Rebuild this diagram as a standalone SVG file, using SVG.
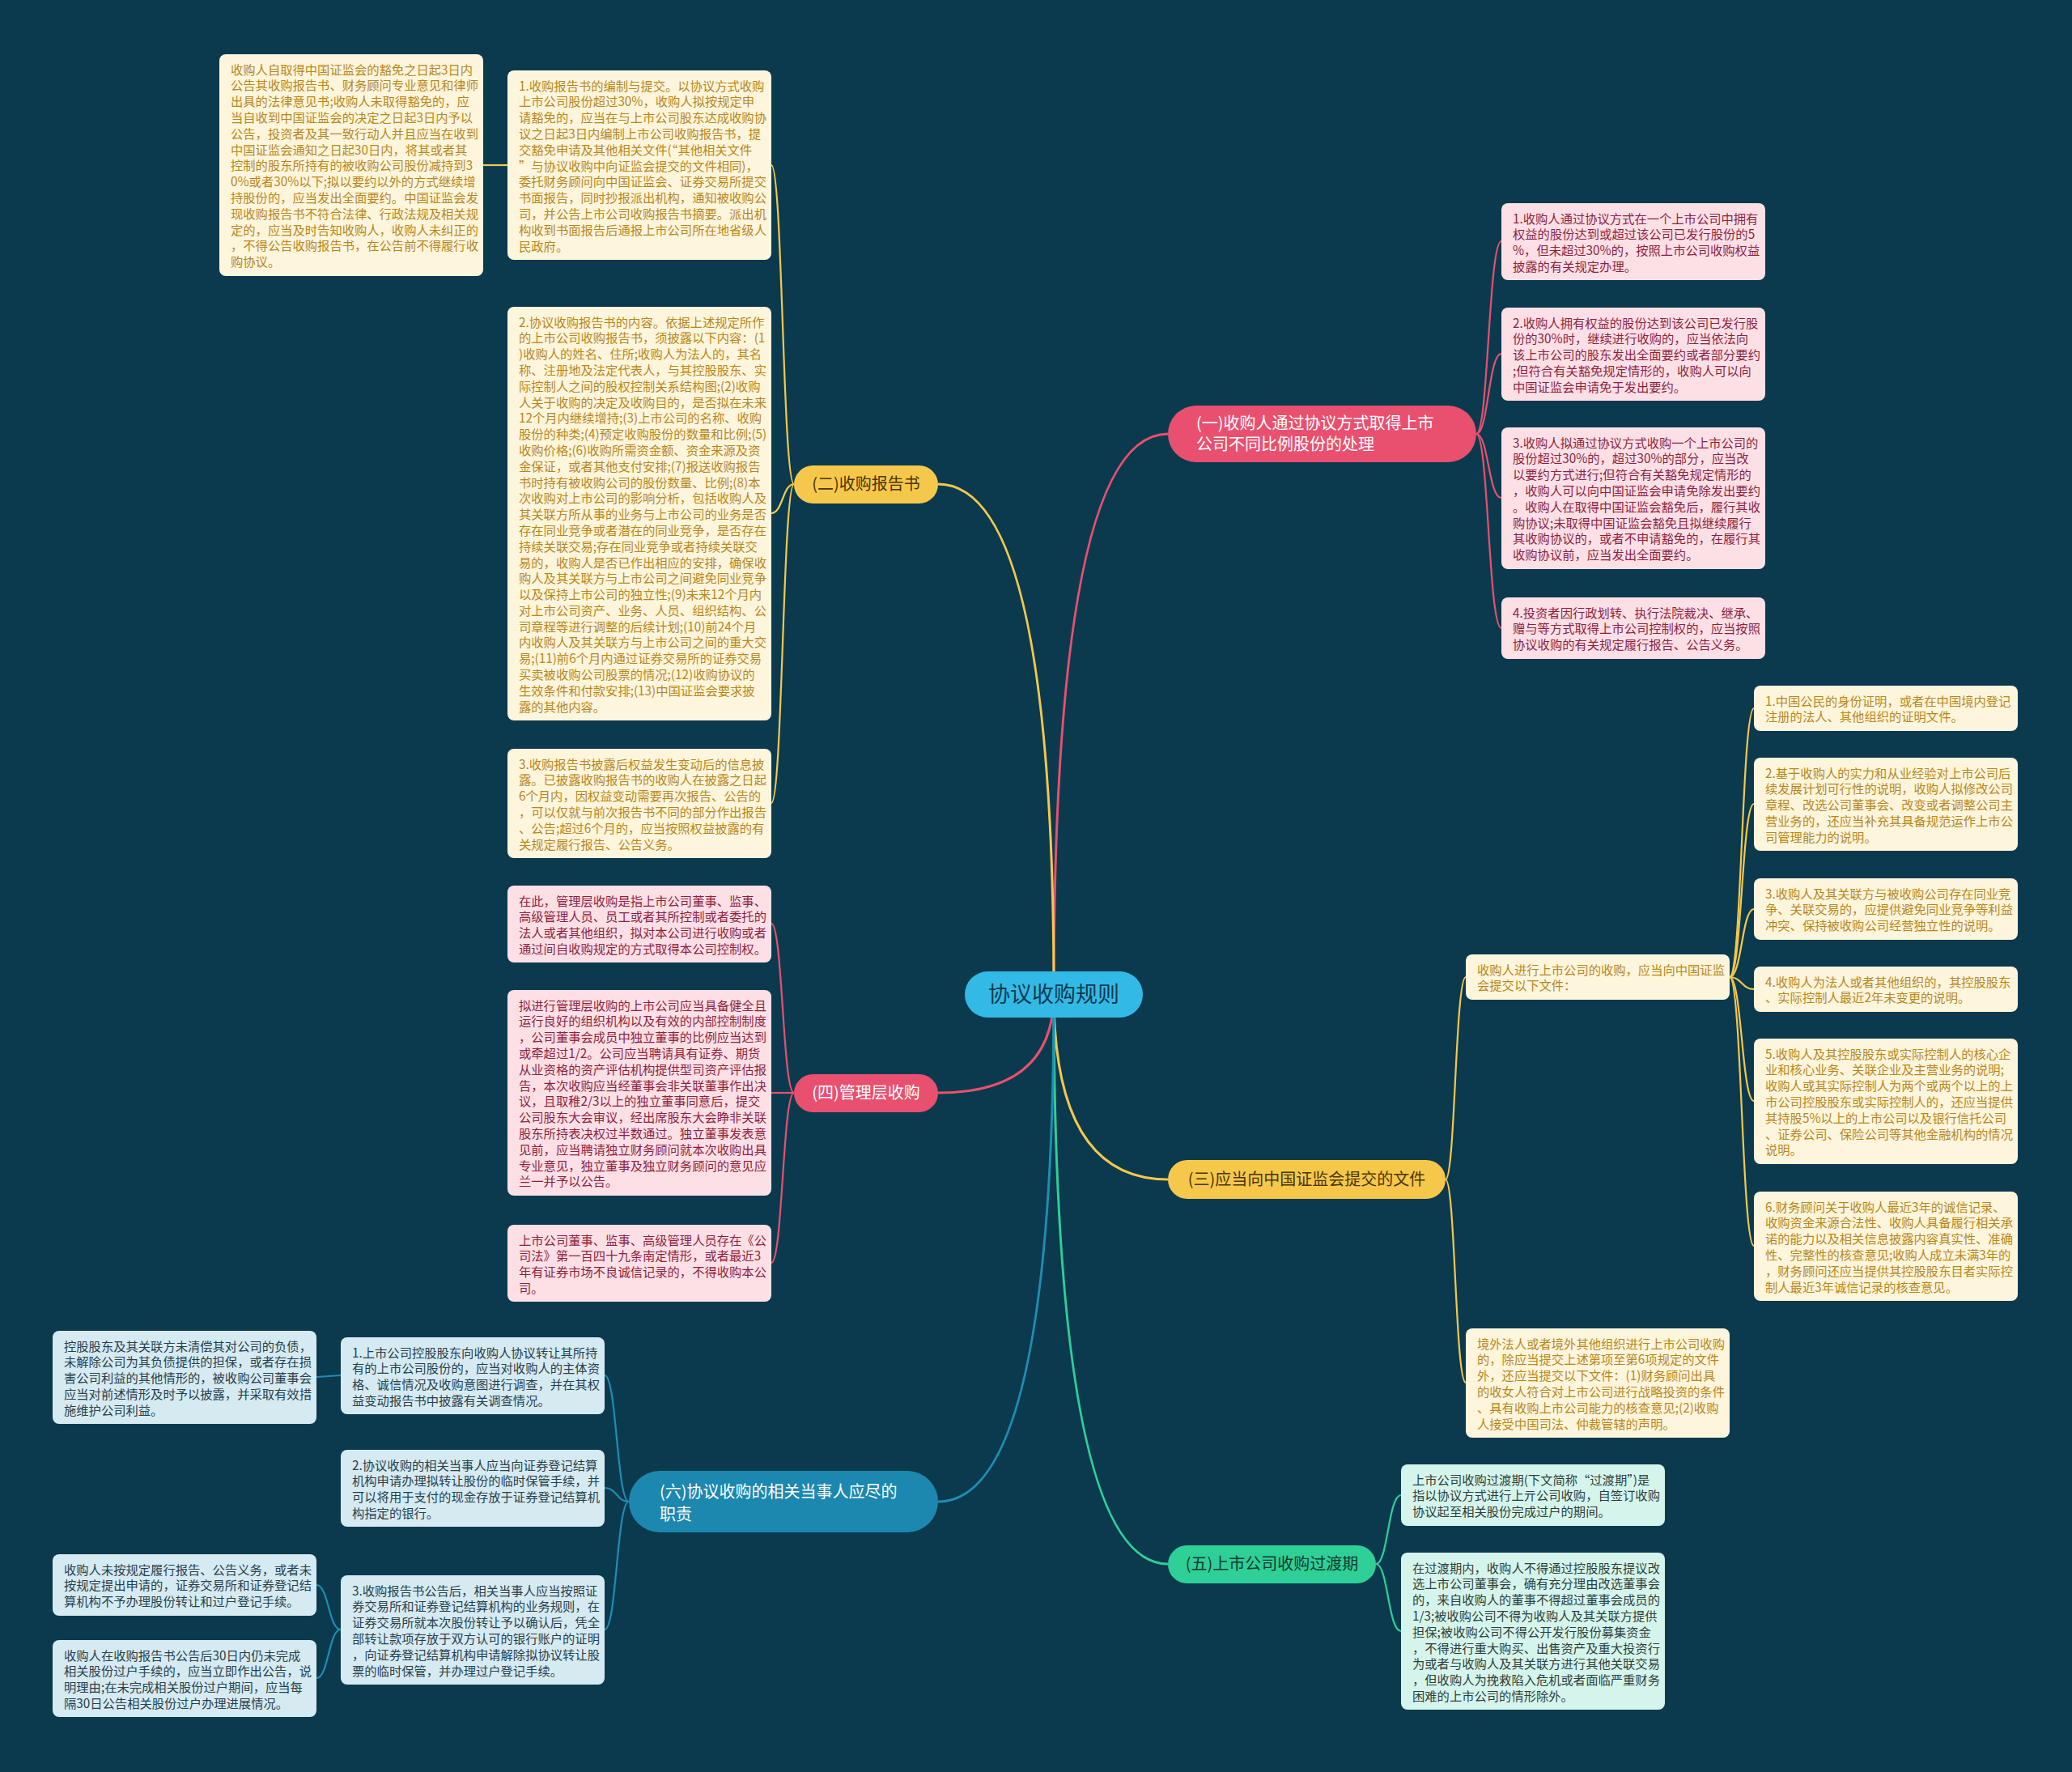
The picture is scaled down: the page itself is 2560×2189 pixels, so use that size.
<svg xmlns="http://www.w3.org/2000/svg" width="2560" height="2189" viewBox="0 0 2560 2189">
<style>
text{font-family:"Noto Sans CJK SC","Noto Sans",sans-serif}
.lt{font-size:15.3px}
.ly rect{fill:#fdf5dc}.ly text{fill:#b8871b}
.lp rect{fill:#fde0e6}.lp text{fill:#8e1f3f}
.lg rect{fill:#d5f5ec}.lg text{fill:#2d3e3a}
.lb rect{fill:#d6eaf2}.lb text{fill:#24404d}
.bt{font-size:20px}
.cy{stroke:#f5c84c}.cp{stroke:#e9506f}.cg{stroke:#2fcf98}.cb{stroke:#1f8db5}
#connectors path{fill:none}
.main{stroke-width:3}
.sub{stroke-width:2.2}
</style>
<rect width="2560" height="2189" fill="#0b3a4e"/>
<g id="connectors">
<path class="main cp" d="M1302 1228 Q1302 536 1443 536"/>
<path class="main cy" d="M1302 1228 Q1302 598 1159 598"/>
<path class="main cp" d="M1302 1228 Q1302 1350 1159 1350"/>
<path class="main cy" d="M1302 1228 Q1302 1457 1443 1457"/>
<path class="main cg" d="M1302 1228 Q1302 1932 1443 1932"/>
<path class="main cb" d="M1302 1228 Q1302 1855 1159 1855"/>
<path class="sub cy" d="M981 598 C967 598 967 204 953 204"/>
<path class="sub cy" d="M981 598 C967 598 967 634 953 634"/>
<path class="sub cy" d="M981 598 C967 598 967 992 953 992"/>
<path class="sub cy" d="M627 204 L597 204"/>
<path class="sub cp" d="M981 1350 C967 1350 967 1141 953 1141"/>
<path class="sub cp" d="M981 1350 C967 1350 967 1350 953 1350"/>
<path class="sub cp" d="M981 1350 C967 1350 967 1560 953 1560"/>
<path class="sub cp" d="M1824 536 C1839 536 1839 298 1855 298"/>
<path class="sub cp" d="M1824 536 C1839 536 1839 437 1855 437"/>
<path class="sub cp" d="M1824 536 C1839 536 1839 615 1855 615"/>
<path class="sub cp" d="M1824 536 C1839 536 1839 776 1855 776"/>
<path class="sub cy" d="M1786 1457 C1798 1457 1798 1207 1811 1207"/>
<path class="sub cy" d="M1786 1457 C1798 1457 1798 1708 1811 1708"/>
<path class="sub cy" d="M2137 1207 C2152 1207 2152 875 2167 875"/>
<path class="sub cy" d="M2137 1207 C2152 1207 2152 993 2167 993"/>
<path class="sub cy" d="M2137 1207 C2152 1207 2152 1123 2167 1123"/>
<path class="sub cy" d="M2137 1207 C2152 1207 2152 1222 2167 1222"/>
<path class="sub cy" d="M2137 1207 C2152 1207 2152 1360 2167 1360"/>
<path class="sub cy" d="M2137 1207 C2152 1207 2152 1539 2167 1539"/>
<path class="sub cg" d="M1700 1932 C1715 1932 1715 1847 1731 1847"/>
<path class="sub cg" d="M1700 1932 C1715 1932 1715 2015 1731 2015"/>
<path class="sub cb" d="M777 1855 C762 1855 762 1699 747 1699"/>
<path class="sub cb" d="M777 1855 C762 1855 762 1838 747 1838"/>
<path class="sub cb" d="M777 1855 C762 1855 762 2013 747 2013"/>
<path class="sub cb" d="M421 1699 L391 1701"/>
<path class="sub cb" d="M421 2013 C406 2013 406 1958 391 1958"/>
<path class="sub cb" d="M421 2013 C406 2013 406 2073 391 2073"/>
</g>

<g id="center">
<rect x="1192" y="1200" width="220" height="57" rx="28.5" fill="#33b9e6"/>
<text x="1302" y="1238" text-anchor="middle" font-size="27" fill="#0b3a4e">协议收购规则</text>
</g>

<g id="n1">
<rect x="1443" y="501" width="381" height="70" rx="35" fill="#e9506f"/>
<text class="bt" fill="#ffffff"><tspan x="1478" y="530">(一)收购人通过协议方式取得上市</tspan><tspan x="1478" y="556">公司不同比例股份的处理</tspan></text>
</g>
<g id="n2">
<rect x="981" y="575" width="178" height="47" rx="23.5" fill="#f5c84c"/>
<text class="bt" x="1070" y="605" text-anchor="middle" fill="#4a3500">(二)收购报告书</text>
</g>
<g id="n3">
<rect x="1443" y="1433" width="343" height="48" rx="24" fill="#f5c84c"/>
<text class="bt" x="1614.5" y="1464" text-anchor="middle" fill="#4a3500">(三)应当向中国证监会提交的文件</text>
</g>
<g id="n4">
<rect x="981" y="1327" width="178" height="47" rx="23.5" fill="#e9506f"/>
<text class="bt" x="1070" y="1357" text-anchor="middle" fill="#ffffff">(四)管理层收购</text>
</g>
<g id="n5">
<rect x="1443" y="1909" width="257" height="47" rx="23.5" fill="#2fcf98"/>
<text class="bt" x="1571.5" y="1939" text-anchor="middle" fill="#0e3b2e">(五)上市公司收购过渡期</text>
</g>
<g id="n6">
<rect x="777" y="1817" width="382" height="76" rx="38" fill="#1c88b0"/>
<text class="bt" fill="#ffffff"><tspan x="815" y="1850">(六)协议收购的相关当事人应尽的</tspan><tspan x="815" y="1878">职责</tspan></text>
</g>

<g id="tl" class="ly">
<rect x="271" y="67" width="326" height="274" rx="8"/>
<text class="lt" x="285" y="91.5"><tspan x="285" dy="0">收购人自取得中国证监会的豁免之日起3日内</tspan><tspan x="285" dy="19.8">公告其收购报告书、财务顾问专业意见和律师</tspan><tspan x="285" dy="19.8">出具的法律意见书;收购人未取得豁免的，应</tspan><tspan x="285" dy="19.8">当自收到中国证监会的决定之日起3日内予以</tspan><tspan x="285" dy="19.8">公告，投资者及其一致行动人并且应当在收到</tspan><tspan x="285" dy="19.8">中国证监会通知之日起30日内，将其或者其</tspan><tspan x="285" dy="19.8">控制的股东所持有的被收购公司股份减持到3</tspan><tspan x="285" dy="19.8">0%或者30%以下;拟以要约以外的方式继续增</tspan><tspan x="285" dy="19.8">持股份的，应当发出全面要约。中国证监会发</tspan><tspan x="285" dy="19.8">现收购报告书不符合法律、行政法规及相关规</tspan><tspan x="285" dy="19.8">定的，应当及时告知收购人，收购人未纠正的</tspan><tspan x="285" dy="19.8">，不得公告收购报告书，在公告前不得履行收</tspan><tspan x="285" dy="19.8">购协议。</tspan></text>
</g>

<g id="b1" class="ly">
<rect x="627" y="87" width="326" height="234" rx="8"/>
<text class="lt" x="641" y="111.5"><tspan x="641" dy="0">1.收购报告书的编制与提交。以协议方式收购</tspan><tspan x="641" dy="19.8">上市公司股份超过30%，收购人拟按规定申</tspan><tspan x="641" dy="19.8">请豁免的，应当在与上市公司股东达成收购协</tspan><tspan x="641" dy="19.8">议之日起3日内编制上市公司收购报告书，提</tspan><tspan x="641" dy="19.8">交豁免申请及其他相关文件(“其他相关文件</tspan><tspan x="641" dy="19.8">”与协议收购中向证监会提交的文件相同)，</tspan><tspan x="641" dy="19.8">委托财务顾问向中国证监会、证券交易所提交</tspan><tspan x="641" dy="19.8">书面报告，同时抄报派出机构，通知被收购公</tspan><tspan x="641" dy="19.8">司，并公告上市公司收购报告书摘要。派出机</tspan><tspan x="641" dy="19.8">构收到书面报告后通报上市公司所在地省级人</tspan><tspan x="641" dy="19.8">民政府。</tspan></text>
</g>

<g id="b2" class="ly">
<rect x="627" y="379" width="326" height="511" rx="8"/>
<text class="lt" x="641" y="403.5"><tspan x="641" dy="0">2.协议收购报告书的内容。依据上述规定所作</tspan><tspan x="641" dy="19.8">的上市公司收购报告书，须披露以下内容：(1</tspan><tspan x="641" dy="19.8">)收购人的姓名、住所;收购人为法人的，其名</tspan><tspan x="641" dy="19.8">称、注册地及法定代表人，与其控股股东、实</tspan><tspan x="641" dy="19.8">际控制人之间的股权控制关系结构图;(2)收购</tspan><tspan x="641" dy="19.8">人关于收购的决定及收购目的，是否拟在未来</tspan><tspan x="641" dy="19.8">12个月内继续增持;(3)上市公司的名称、收购</tspan><tspan x="641" dy="19.8">股份的种类;(4)预定收购股份的数量和比例;(5)</tspan><tspan x="641" dy="19.8">收购价格;(6)收购所需资金额、资金来源及资</tspan><tspan x="641" dy="19.8">金保证，或者其他支付安排;(7)报送收购报告</tspan><tspan x="641" dy="19.8">书时持有被收购公司的股份数量、比例;(8)本</tspan><tspan x="641" dy="19.8">次收购对上市公司的影响分析，包括收购人及</tspan><tspan x="641" dy="19.8">其关联方所从事的业务与上市公司的业务是否</tspan><tspan x="641" dy="19.8">存在同业竞争或者潜在的同业竞争，是否存在</tspan><tspan x="641" dy="19.8">持续关联交易;存在同业竞争或者持续关联交</tspan><tspan x="641" dy="19.8">易的，收购人是否已作出相应的安排，确保收</tspan><tspan x="641" dy="19.8">购人及其关联方与上市公司之间避免同业竞争</tspan><tspan x="641" dy="19.8">以及保持上市公司的独立性;(9)未来12个月内</tspan><tspan x="641" dy="19.8">对上市公司资产、业务、人员、组织结构、公</tspan><tspan x="641" dy="19.8">司章程等进行调整的后续计划;(10)前24个月</tspan><tspan x="641" dy="19.8">内收购人及其关联方与上市公司之间的重大交</tspan><tspan x="641" dy="19.8">易;(11)前6个月内通过证券交易所的证券交易</tspan><tspan x="641" dy="19.8">买卖被收购公司股票的情况;(12)收购协议的</tspan><tspan x="641" dy="19.8">生效条件和付款安排;(13)中国证监会要求披</tspan><tspan x="641" dy="19.8">露的其他内容。</tspan></text>
</g>

<g id="b3" class="ly">
<rect x="627" y="925" width="326" height="135" rx="8"/>
<text class="lt" x="641" y="949.5"><tspan x="641" dy="0">3.收购报告书披露后权益发生变动后的信息披</tspan><tspan x="641" dy="19.8">露。已披露收购报告书的收购人在披露之日起</tspan><tspan x="641" dy="19.8">6个月内，因权益变动需要再次报告、公告的</tspan><tspan x="641" dy="19.8">，可以仅就与前次报告书不同的部分作出报告</tspan><tspan x="641" dy="19.8">、公告;超过6个月的，应当按照权益披露的有</tspan><tspan x="641" dy="19.8">关规定履行报告、公告义务。</tspan></text>
</g>

<g id="m1" class="lp">
<rect x="627" y="1094" width="326" height="95" rx="8"/>
<text class="lt" x="641" y="1118.5"><tspan x="641" dy="0">在此，管理层收购是指上市公司董事、监事、</tspan><tspan x="641" dy="19.8">高级管理人员、员工或者其所控制或者委托的</tspan><tspan x="641" dy="19.8">法人或者其他组织，拟对本公司进行收购或者</tspan><tspan x="641" dy="19.8">通过间自收购规定的方式取得本公司控制权。</tspan></text>
</g>

<g id="m2" class="lp">
<rect x="627" y="1223" width="326" height="254" rx="8"/>
<text class="lt" x="641" y="1247.5"><tspan x="641" dy="0">拟进行管理层收购的上市公司应当具备健全且</tspan><tspan x="641" dy="19.8">运行良好的组织机构以及有效的内部控制制度</tspan><tspan x="641" dy="19.8">，公司董事会成员中独立董事的比例应当达到</tspan><tspan x="641" dy="19.8">或牵超过1/2。公司应当聘请具有证券、期货</tspan><tspan x="641" dy="19.8">从业资格的资产评估机构提供型司资产评估报</tspan><tspan x="641" dy="19.8">告，本次收购应当经董事会非关联董事作出决</tspan><tspan x="641" dy="19.8">议，且取稚2/3以上的独立董事同意后，提交</tspan><tspan x="641" dy="19.8">公司股东大会审议，经出席股东大会睁非关联</tspan><tspan x="641" dy="19.8">股东所持表决权过半数通过。独立董事发表意</tspan><tspan x="641" dy="19.8">见前，应当聘请独立财务顾问就本次收购出具</tspan><tspan x="641" dy="19.8">专业意见，独立董事及独立财务顾问的意见应</tspan><tspan x="641" dy="19.8">兰一并予以公告。</tspan></text>
</g>

<g id="m3" class="lp">
<rect x="627" y="1513" width="326" height="95" rx="8"/>
<text class="lt" x="641" y="1537.5"><tspan x="641" dy="0">上市公司董事、监事、高级管理人员存在《公</tspan><tspan x="641" dy="19.8">司法》第一百四十九条南定情形，或者最近3</tspan><tspan x="641" dy="19.8">年有证券市场不良诚信记录的，不得收购本公</tspan><tspan x="641" dy="19.8">司。</tspan></text>
</g>

<g id="r1" class="lp">
<rect x="1855" y="251" width="326" height="95" rx="8"/>
<text class="lt" x="1869" y="275.5"><tspan x="1869" dy="0">1.收购人通过协议方式在一个上市公司中拥有</tspan><tspan x="1869" dy="19.8">权益的股份达到或超过该公司已发行股份的5</tspan><tspan x="1869" dy="19.8">%，但未超过30%的，按照上市公司收购权益</tspan><tspan x="1869" dy="19.8">披露的有关规定办理。</tspan></text>
</g>

<g id="r2" class="lp">
<rect x="1855" y="380" width="326" height="115" rx="8"/>
<text class="lt" x="1869" y="404.5"><tspan x="1869" dy="0">2.收购人拥有权益的股份达到该公司已发行股</tspan><tspan x="1869" dy="19.8">份的30%时，继续进行收购的，应当依法向</tspan><tspan x="1869" dy="19.8">该上市公司的股东发出全面要约或者部分要约</tspan><tspan x="1869" dy="19.8">;但符合有关豁免规定情形的，收购人可以向</tspan><tspan x="1869" dy="19.8">中国证监会申请免于发出要约。</tspan></text>
</g>

<g id="r3" class="lp">
<rect x="1855" y="528" width="326" height="175" rx="8"/>
<text class="lt" x="1869" y="552.5"><tspan x="1869" dy="0">3.收购人拟通过协议方式收购一个上市公司的</tspan><tspan x="1869" dy="19.8">股份超过30%的，超过30%的部分，应当改</tspan><tspan x="1869" dy="19.8">以要约方式进行;但符合有关豁免规定情形的</tspan><tspan x="1869" dy="19.8">，收购人可以向中国证监会申请免除发出要约</tspan><tspan x="1869" dy="19.8">。收购人在取得中国证监会豁免后，履行其收</tspan><tspan x="1869" dy="19.8">购协议;未取得中国证监会豁免且拟继续履行</tspan><tspan x="1869" dy="19.8">其收购协议的，或者不申请豁免的，在履行其</tspan><tspan x="1869" dy="19.8">收购协议前，应当发出全面要约。</tspan></text>
</g>

<g id="r4" class="lp">
<rect x="1855" y="738" width="326" height="76" rx="8"/>
<text class="lt" x="1869" y="762.5"><tspan x="1869" dy="0">4.投资者因行政划转、执行法院裁决、继承、</tspan><tspan x="1869" dy="19.8">赠与等方式取得上市公司控制权的，应当按照</tspan><tspan x="1869" dy="19.8">协议收购的有关规定履行报告、公告义务。</tspan></text>
</g>

<g id="ma" class="ly">
<rect x="1811" y="1179" width="326" height="56" rx="8"/>
<text class="lt" x="1825" y="1203.5"><tspan x="1825" dy="0">收购人进行上市公司的收购，应当向中国证监</tspan><tspan x="1825" dy="19.8">会提交以下文件：</tspan></text>
</g>

<g id="mb" class="ly">
<rect x="1811" y="1641" width="326" height="135" rx="8"/>
<text class="lt" x="1825" y="1665.5"><tspan x="1825" dy="0">境外法人或者境外其他组织进行上市公司收购</tspan><tspan x="1825" dy="19.8">的，除应当提交上述第项至第6项规定的文件</tspan><tspan x="1825" dy="19.8">外，还应当提交以下文件：(1)财务顾问出具</tspan><tspan x="1825" dy="19.8">的收女人符合对上市公司进行战略投资的条件</tspan><tspan x="1825" dy="19.8">、具有收购上市公司能力的核查意见;(2)收购</tspan><tspan x="1825" dy="19.8">人接受中国司法、仲裁管辖的声明。</tspan></text>
</g>

<g id="f1" class="ly">
<rect x="2167" y="847" width="326" height="56" rx="8"/>
<text class="lt" x="2181" y="871.5"><tspan x="2181" dy="0">1.中国公民的身份证明，或者在中国境内登记</tspan><tspan x="2181" dy="19.8">注册的法人、其他组织的证明文件。</tspan></text>
</g>

<g id="f2" class="ly">
<rect x="2167" y="936" width="326" height="115" rx="8"/>
<text class="lt" x="2181" y="960.5"><tspan x="2181" dy="0">2.基于收购人的实力和从业经验对上市公司后</tspan><tspan x="2181" dy="19.8">续发展计划可行性的说明，收购人拟修改公司</tspan><tspan x="2181" dy="19.8">章程、改选公司董事会、改变或者调整公司主</tspan><tspan x="2181" dy="19.8">营业务的，还应当补充其具备规范运作上市公</tspan><tspan x="2181" dy="19.8">司管理能力的说明。</tspan></text>
</g>

<g id="f3" class="ly">
<rect x="2167" y="1085" width="326" height="76" rx="8"/>
<text class="lt" x="2181" y="1109.5"><tspan x="2181" dy="0">3.收购人及其关联方与被收购公司存在同业竞</tspan><tspan x="2181" dy="19.8">争、关联交易的，应提供避免同业竞争等利益</tspan><tspan x="2181" dy="19.8">冲突、保持被收购公司经营独立性的说明。</tspan></text>
</g>

<g id="f4" class="ly">
<rect x="2167" y="1194" width="326" height="56" rx="8"/>
<text class="lt" x="2181" y="1218.5"><tspan x="2181" dy="0">4.收购人为法人或者其他组织的，其控股股东</tspan><tspan x="2181" dy="19.8">、实际控制人最近2年未变更的说明。</tspan></text>
</g>

<g id="f5" class="ly">
<rect x="2167" y="1283" width="326" height="155" rx="8"/>
<text class="lt" x="2181" y="1307.5"><tspan x="2181" dy="0">5.收购人及其控股股东或实际控制人的核心企</tspan><tspan x="2181" dy="19.8">业和核心业务、关联企业及主营业务的说明;</tspan><tspan x="2181" dy="19.8">收购人或其实际控制人为两个或两个以上的上</tspan><tspan x="2181" dy="19.8">市公司控股股东或实际控制人的，还应当提供</tspan><tspan x="2181" dy="19.8">其持股5%以上的上市公司以及银行信托公司</tspan><tspan x="2181" dy="19.8">、证券公司、保险公司等其他金融机构的情况</tspan><tspan x="2181" dy="19.8">说明。</tspan></text>
</g>

<g id="f6" class="ly">
<rect x="2167" y="1472" width="326" height="135" rx="8"/>
<text class="lt" x="2181" y="1496.5"><tspan x="2181" dy="0">6.财务顾问关于收购人最近3年的诚信记录、</tspan><tspan x="2181" dy="19.8">收购资金来源合法性、收购人具备履行相关承</tspan><tspan x="2181" dy="19.8">诺的能力以及相关信息披露内容真实性、准确</tspan><tspan x="2181" dy="19.8">性、完整性的核查意见;收购人成立未满3年的</tspan><tspan x="2181" dy="19.8">，财务顾问还应当提供其控股股东目者实际控</tspan><tspan x="2181" dy="19.8">制人最近3年诚信记录的核查意见。</tspan></text>
</g>

<g id="t1" class="lg">
<rect x="1731" y="1809" width="326" height="76" rx="8"/>
<text class="lt" x="1745" y="1833.5"><tspan x="1745" dy="0">上市公司收购过渡期(下文简称“过渡期”)是</tspan><tspan x="1745" dy="19.8">指以协议方式进行上亓公司收购，自签订收购</tspan><tspan x="1745" dy="19.8">协议起至相关股份完成过户的期间。</tspan></text>
</g>

<g id="t2" class="lg">
<rect x="1731" y="1918" width="326" height="194" rx="8"/>
<text class="lt" x="1745" y="1942.5"><tspan x="1745" dy="0">在过渡期内，收购人不得通过控股股东提议改</tspan><tspan x="1745" dy="19.8">选上市公司董事会，确有充分理由改选董事会</tspan><tspan x="1745" dy="19.8">的，来自收购人的董事不得超过董事会成员的</tspan><tspan x="1745" dy="19.8">1/3;被收购公司不得为收购人及其关联方提供</tspan><tspan x="1745" dy="19.8">担保;被收购公司不得公开发行股份募集资金</tspan><tspan x="1745" dy="19.8">，不得进行重大购买、出售资产及重大投资行</tspan><tspan x="1745" dy="19.8">为或者与收购人及其关联方进行其他关联交易</tspan><tspan x="1745" dy="19.8">，但收购人为挽救陷入危机或者面临严重财务</tspan><tspan x="1745" dy="19.8">困难的上市公司的情形除外。</tspan></text>
</g>

<g id="s1" class="lb">
<rect x="421" y="1652" width="326" height="95" rx="8"/>
<text class="lt" x="435" y="1676.5"><tspan x="435" dy="0">1.上市公司控股股东向收购人协议转让其所持</tspan><tspan x="435" dy="19.8">有的上市公司股份的，应当对收购人的主体资</tspan><tspan x="435" dy="19.8">格、诚信情况及收购意图进行调查，并在其权</tspan><tspan x="435" dy="19.8">益变动报告书中披露有关调查情况。</tspan></text>
</g>

<g id="s2" class="lb">
<rect x="421" y="1791" width="326" height="95" rx="8"/>
<text class="lt" x="435" y="1815.5"><tspan x="435" dy="0">2.协议收购的相关当事人应当向证券登记结算</tspan><tspan x="435" dy="19.8">机构申请办理拟转让股份的临时保管手续，并</tspan><tspan x="435" dy="19.8">可以将用于支付的现金存放于证券登记结算机</tspan><tspan x="435" dy="19.8">构指定的银行。</tspan></text>
</g>

<g id="s3" class="lb">
<rect x="421" y="1946" width="326" height="135" rx="8"/>
<text class="lt" x="435" y="1970.5"><tspan x="435" dy="0">3.收购报告书公告后，相关当事人应当按照证</tspan><tspan x="435" dy="19.8">券交易所和证券登记结算机构的业务规则，在</tspan><tspan x="435" dy="19.8">证券交易所就本次股份转让予以确认后，凭全</tspan><tspan x="435" dy="19.8">部转让款项存放于双方认可的银行账户的证明</tspan><tspan x="435" dy="19.8">，向证券登记结算机构申请解除拟协议转让股</tspan><tspan x="435" dy="19.8">票的临时保管，并办理过户登记手续。</tspan></text>
</g>

<g id="stl" class="lb">
<rect x="65" y="1644" width="326" height="115" rx="8"/>
<text class="lt" x="79" y="1668.5"><tspan x="79" dy="0">控股股东及其关联方未清偿其对公司的负债，</tspan><tspan x="79" dy="19.8">未解除公司为其负债提供的担保，或者存在损</tspan><tspan x="79" dy="19.8">害公司利益的其他情形的，被收购公司董事会</tspan><tspan x="79" dy="19.8">应当对前述情形及时予以披露，并采取有效措</tspan><tspan x="79" dy="19.8">施维护公司利益。</tspan></text>
</g>

<g id="sl2" class="lb">
<rect x="65" y="1920" width="326" height="76" rx="8"/>
<text class="lt" x="79" y="1944.5"><tspan x="79" dy="0">收购人未按规定履行报告、公告义务，或者未</tspan><tspan x="79" dy="19.8">按规定提出申请的，证券交易所和证券登记结</tspan><tspan x="79" dy="19.8">算机构不予办理股份转让和过户登记手续。</tspan></text>
</g>

<g id="sl3" class="lb">
<rect x="65" y="2026" width="326" height="95" rx="8"/>
<text class="lt" x="79" y="2050.5"><tspan x="79" dy="0">收购人在收购报告书公告后30日内仍未完成</tspan><tspan x="79" dy="19.8">相关股份过户手续的，应当立即作出公告，说</tspan><tspan x="79" dy="19.8">明理由;在未完成相关股份过户期间，应当每</tspan><tspan x="79" dy="19.8">隔30日公告相关股份过户办理进展情况。</tspan></text>
</g>
</svg>
